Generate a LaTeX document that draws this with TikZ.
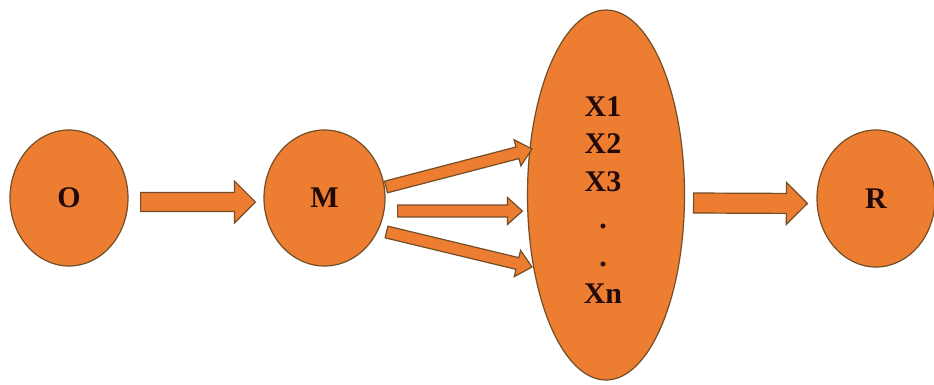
\documentclass[tikz,border=0pt]{standalone}
\usepackage{fontspec}
\setmainfont{Liberation Serif}
\usetikzlibrary{calc,shapes.geometric}
\definecolor{orfill}{RGB}{237,125,49}
\definecolor{orline}{RGB}{115,78,38}
\definecolor{txt}{RGB}{35,10,10}
\newcommand{\blockarr}[5]{%
  \coordinate (tmpS) at ($(#2)!#5!(#1)$);
  \filldraw[arrowsty] ($(#1)!#3!90:(#2)$) -- ($(tmpS)!#3!-90:(#1)$) -- ($(tmpS)!#4!-90:(#1)$) -- (#2) -- ($(tmpS)!#4!90:(#1)$) -- ($(tmpS)!#3!90:(#1)$) -- ($(#1)!#3!-90:(#2)$) -- cycle;}
\begin{document}
\begin{tikzpicture}[x=1pt,y=-1pt,
  blob/.style={ellipse, draw=orline, fill=orfill, line width=1.2pt, inner sep=0pt,
    font=\fontsize{30}{37.4}\selectfont\bfseries, text=txt},
  arrowsty/.style={draw=orline, fill=orfill, line width=1.2pt, line join=miter},
  lbl/.style={font=\fontsize{30}{37.4}\selectfont\bfseries, text=txt, align=center, inner sep=0pt}]
\fill[white] (0,0) rectangle (934,384);
\useasboundingbox (0,0) rectangle (934,384);

\node[blob, minimum width=118pt, minimum height=136pt] (O) at (69,198) {O};
\node[blob, minimum width=121pt, minimum height=136pt] (M) at (324.5,198) {M};
\node[blob, minimum width=157pt, minimum height=370pt] (X) at (606,195) {};
\node[lbl] (xs) at ($(X.center)+(-3,5)$) {X1\\X2\\X3\\.\\.\\Xn};
\node[blob, minimum width=118pt, minimum height=137pt] (R) at (876,198.5) {R};

\coordinate (om1) at ($(O.east)+(12,4)$);
\coordinate (om2) at ($(M.west)+(-8,4)$);
\coordinate (mu1) at ($(M.center)+(61.5,-11)$);
\coordinate (mu2) at ($(X.center)+(-74,-46)$);
\coordinate (mm1) at ($(M.east)+(12,13)$);
\coordinate (mm2) at ($(X.west)+(-4.5,16)$);
\coordinate (ml1) at ($(M.center)+(62,34)$);
\coordinate (ml2) at ($(X.center)+(-74,72)$);
\coordinate (xr1) at ($(X.east)+(8.5,8)$);
\coordinate (xr2) at ($(R.west)+(-9,5)$);

\blockarr{om1}{om2}{9.5pt}{21pt}{21pt}
\blockarr{mu1}{mu2}{6pt}{13.5pt}{15pt}
\blockarr{mm1}{mm2}{6pt}{13.5pt}{15pt}
\blockarr{ml1}{ml2}{6pt}{13.5pt}{15pt}
\blockarr{xr1}{xr2}{10pt}{21pt}{21pt}
\end{tikzpicture}
\end{document}
